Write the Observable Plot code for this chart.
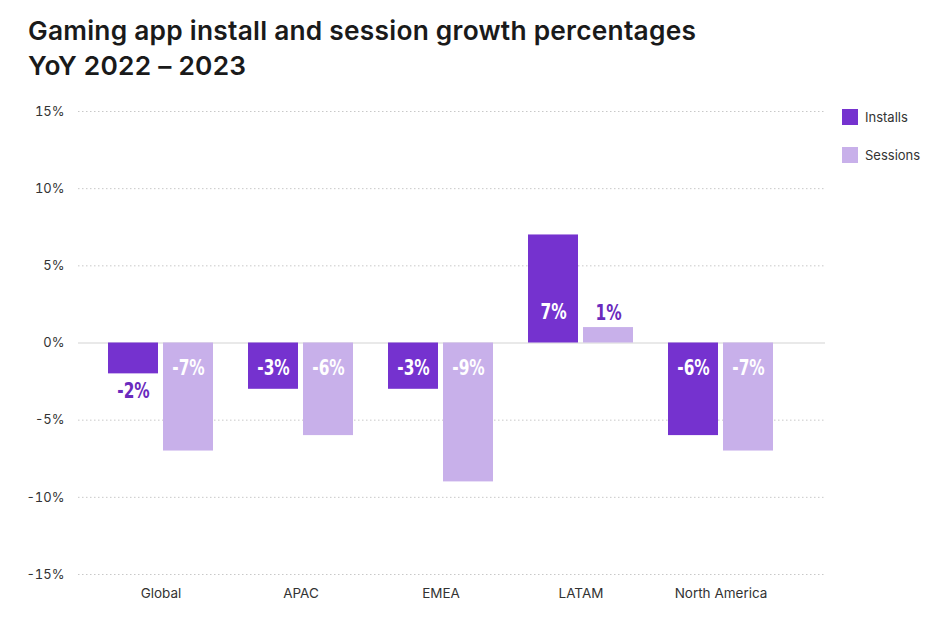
<!DOCTYPE html>
<html>
<head>
<meta charset="utf-8">
<script src="https://cdn.jsdelivr.net/npm/d3@7"></script>
<script src="https://cdn.jsdelivr.net/npm/@observablehq/plot@0.6"></script>
<style>
  html, body { margin: 0; padding: 0; background: #fff; }
  #wrap { position: relative; width: 940px; height: 621px; overflow: hidden; font-family: Inter, "Noto Sans", sans-serif; }
  #title { position: absolute; left: 28px; top: 13px; font-size: 26.3px; font-weight: 600; line-height: 35px; color: #1a1a1a; letter-spacing: 0.25px; }
  #chart { position: absolute; left: 0; top: 90px; }
  #legend { position: absolute; left: 842px; top: 108px; font-size: 13px; color: #333; }
  .item { display: flex; align-items: center; height: 18px; margin-bottom: 20px; }
  .sw { width: 16px; height: 16px; margin-right: 7px; }
</style>
</head>
<body>
<div id="wrap">
  <div id="title">Gaming app install and session growth percentages<br>YoY 2022 – 2023</div>
  <div id="chart"></div>
  <div id="legend"></div>
</div>
<script>
const regions = ["Global", "APAC", "EMEA", "LATAM", "North America"];
const installs = [-2, -3, -3, 7, -6];
const sessions = [-7, -6, -9, 1, -7];
const seriesNames = ["Installs", "Sessions"];
const seriesColors = ["#7532cf", "#c8b0ea"];
const yTicks = [-15, -10, -5, 0, 5, 10, 15];

const rows = [];
regions.forEach((r, i) => {
  rows.push({region: r, series: "Installs", value: installs[i]});
  rows.push({region: r, series: "Sessions", value: sessions[i]});
});
const inst = rows.filter(d => d.series === "Installs");
const sess = rows.filter(d => d.series === "Sessions");
const fmt = d => d + "%";
const labelFont = {fontFamily: "'DejaVu Sans', sans-serif", fontWeight: "bold", fontSize: 22};
const dark = "#6a2bbd";

function labels(data, dx) {
  return [
    Plot.text(data.filter(d => d.value <= -3), {x: "region", y: () => 0, text: d => fmt(d.value), dx, dy: 25, fill: "white", ...labelFont}),
    Plot.text(data.filter(d => d.value >= 3), {x: "region", y: () => 0, text: d => fmt(d.value), dx, dy: -31, fill: "white", ...labelFont}),
    Plot.text(data.filter(d => d.value < 0 && d.value > -3), {x: "region", y: "value", text: d => fmt(d.value), dx, dy: 17, fill: dark, ...labelFont}),
    Plot.text(data.filter(d => d.value > 0 && d.value < 3), {x: "region", y: "value", text: d => fmt(d.value), dx, dy: -15, fill: dark, ...labelFont})
  ];
}

const chart = Plot.plot({
  width: 940,
  height: 531,
  marginTop: 21,
  marginBottom: 47,
  marginLeft: 78,
  marginRight: 115,
  style: {fontFamily: "Inter, 'Noto Sans', sans-serif", fontSize: "13.5px", color: "#333", background: "white"},
  x: {domain: regions, paddingInner: 0.2527, paddingOuter: 0.2847, align: 0.3625, label: null},
  y: {domain: [-15, 15], label: null},
  marks: [
    Plot.gridY(yTicks.filter(t => t !== 0), {stroke: "#c8c8c8", strokeOpacity: 1, strokeDasharray: "1.5,2.5"}),
    Plot.ruleY([0], {stroke: "#e2e2e2", strokeWidth: 1.5}),
    Plot.barY(inst, {x: "region", y: "value", fill: seriesColors[0], insetRight: 55}),
    Plot.barY(sess, {x: "region", y: "value", fill: seriesColors[1], insetLeft: 55}),
    ...labels(inst, -27.5),
    ...labels(sess, 27.5),
    Plot.axisY(yTicks, {tickFormat: fmt, tickSize: 0, tickPadding: 14, label: null, fill: "#333", fontSize: 13}),
    Plot.axisX({tickSize: 0, tickPadding: 14, label: null, fill: "#333"})
  ]
});
document.getElementById("chart").appendChild(chart);
// condense the value labels horizontally (glyph compression, position untouched)
chart.querySelectorAll('g[aria-label="text"] text').forEach(el => {
  const w = el.getComputedTextLength();
  if (w > 0) {
    el.setAttribute("textLength", (w * 0.7).toFixed(1));
    el.setAttribute("lengthAdjust", "spacingAndGlyphs");
  }
});

const legend = document.getElementById("legend");
seriesNames.forEach((s, i) => {
  const it = document.createElement("div");
  it.className = "item";
  const sw = document.createElement("div");
  sw.className = "sw";
  sw.style.background = seriesColors[i];
  const t = document.createElement("span");
  t.textContent = s;
  it.appendChild(sw); it.appendChild(t);
  legend.appendChild(it);
});
</script>
</body>
</html>
